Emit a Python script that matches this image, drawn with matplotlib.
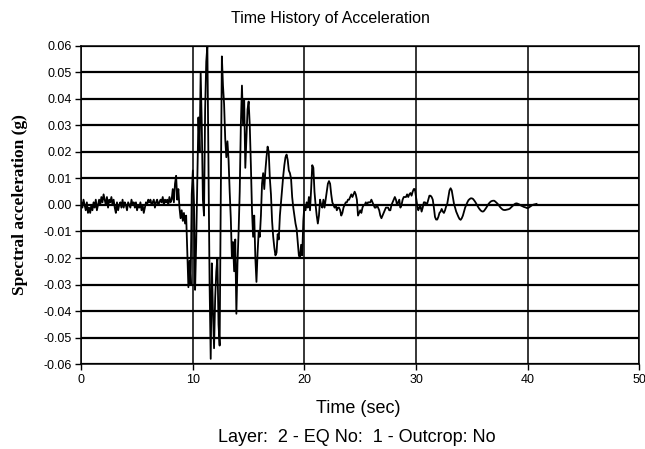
import matplotlib
matplotlib.use("Agg")
import matplotlib.pyplot as plt
import numpy as np

dt = 0.1
accel_mg = [
    1, -1, 2, 0, -2, 1, -3, -1, -3, 0,
    -2, 1, -1, 2, -2, 0, 2, 0, 3, 1,
    4, 2, 0, 3, -1, 2, 1, 3, 0, 2,
    -1, -3, 1, -2, 0, 1, -1, 2, -1, 1,
    0, -2, 1, 0, -1, 2, 0, 1, -1, 1,
    -2, 0, -1, 1, -2, 0, -3, -1, 1, 0,
    2, 1, 2, 0, 1, 2, -1, 1, 2, 0,
    1, 2, 1, 3, 0, 2, 1, 2, 0, 3,
    1, 2, 6, 1, 8, 11, 2, 6, -1, -5,
    -2, -6, -3, -7, -4, -18, -31, -21, -30, 4,
    13, 1, -32, -14, 10, 33, 20, 50, 30, 2,
    -4, 36, 54, 60, 15, -30, -58, -22, -40, -54,
    -35, -25, -20, -45, -53, 0, 56, 45, 38, 25,
    18, 24, 17, 5, -5, -20, -14, -25, -13, -41,
    -22, -10, 5, 30, 45, 30, 40, 14, 25, 36,
    39, 30, 15, -2, -12, -4, -20, -29, -18, -10,
    -12, -4, 8, 12, 6, 13, 18, 22, 20, 10,
    4, -6, -12, -16, -19, -18, -11, -13, -4, 1,
    6, 11, 15, 18, 19, 17, 13, 12, 10, 3,
    -1, -4, -7, -9, -14, -19, -20, -15, -19, -6,
    0, -2, 1, -1, 3, -2, 6, 15, 14, 5,
    0, -4, -7, -4, 2, 0, -1, 2, -1, 2,
    5, 8, 9, 8, 4, 1, 0, -1, 0, -2,
    -1, -1, -2, -4, -3, -1, 0, 1, 1, 2,
    2, 3, 4, 3, 4, 5, 4, 2, -4, -3,
    -2, -3, -1, 0, 0, 1, 0, 1, 1, 1,
    2, 1, 0, -1, -1, 0, -1, -2, -4, -5,
    -4, -3, -2, -1, -1, -1, -2, -2, 0, 1,
    2, 3, 2, 0, 1, 2, -1, 0, 2, 3,
    3, 3, 4, 3, 4, 4.5, 3.5, 5, 6, 6,
    3, 0, -2, -1, -0.5, -2.5, -1, 1, 1, 0.5,
    0.5, 2, 3.5, 3.5, 3, 2, -1, -4.5, -5.5, -5.5,
    -4.5, -3, -2.5, -1.5, -2.5, -3, -2, -0.5, 0.5, 3,
    5.5, 6.3, 5.5, 3, 0.5, -1, -2.5, -3.5, -4.5, -5.3,
    -5.6, -5, -4, -2.5, -1, 0, 1, 1.8, 2.2, 2.5,
    2.5, 2.3, 1.8, 1.2, 0.5, -0.3, -1, -1.6, -2.1, -2.4,
    -2.5, -2.2, -1.6, -1, -0.3, 0.4, 0.9, 1.3, 1.5, 1.6,
    1.6, 1.3, 0.9, 0.5, 0, -0.6, -1.1, -1.5, -1.8, -1.9,
    -1.9, -1.8, -1.7, -1.6, -1.4, -1.0, -0.6, -0.2, 0.2, 0.5,
    0.6, 0.5, 0.3, 0.1, -0.2, -0.4, -0.6, -0.8, -0.9, -1.1,
    -1.2, -1.0, -0.7, -0.4, -0.1, 0.1, 0.2, 0.3, 0.4,
]
x_ticks = [0, 10, 20, 30, 40, 50]
y_ticks = [-0.06, -0.05, -0.04, -0.03, -0.02, -0.01, 0.0,
           0.01, 0.02, 0.03, 0.04, 0.05, 0.06]

time = np.arange(len(accel_mg)) * dt
accel = np.array(accel_mg) / 1000.0

plt.rcParams['font.family'] = ['Liberation Sans', 'DejaVu Sans']
plt.rcParams['axes.unicode_minus'] = False

fig = plt.figure(figsize=(6.45, 4.49), dpi=100)
ax = fig.add_axes([0.126, 0.189, 0.865, 0.709])

for y in y_ticks:
    ax.axhline(y, color='black', lw=1.6, zorder=1)
for x in x_ticks:
    ax.axvline(x, color='black', lw=1.1, zorder=1)

ax.plot(time, accel, color='black', lw=1.3, zorder=3)

ax.set_xlim(0, 50)
ax.set_ylim(-0.06, 0.06)
ax.set_xticks(x_ticks)
ax.set_yticks(y_ticks)
ax.set_yticklabels(['%.2f' % v for v in y_ticks])
ax.tick_params(direction='out', length=4, width=1, labelsize=9, pad=3)
for s in ax.spines.values():
    s.set_color('black')
    s.set_linewidth(1.1)

fig.text(0.512, 0.958, 'Time History of Acceleration', ha='center', va='center', fontsize=11.5)
fig.text(0.556, 0.09, 'Time (sec)', ha='center', va='center', fontsize=13)
fig.text(0.553, 0.025, 'Layer:  2 - EQ No:  1 - Outcrop: No', ha='center', va='center', fontsize=13)
fig.text(0.031, 0.545, 'Spectral acceleration (g)', rotation=90, ha='center', va='center',
         fontsize=12.5, fontweight='bold', family='Liberation Serif')

fig.savefig('out.png', dpi=100)
